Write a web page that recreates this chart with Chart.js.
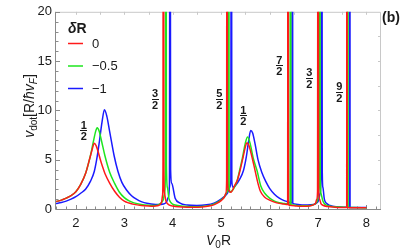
<!DOCTYPE html>
<html><head><meta charset="utf-8">
<script src="https://cdn.jsdelivr.net/npm/chart.js@4"></script>
<style>html,body{margin:0;padding:0;background:#fff}#c{display:block}</style>
</head><body>
<canvas id="c" width="407" height="250"></canvas>
<script>
// ---- data ----
const seriesLabels = ['0', '\u22120.5', '\u22121'];
const seriesColors = ['#ff1a1a', '#1ee61e', '#1a1aff'];

const redPts = [[1.59,0.75],[1.7,0.9],[1.8,1.1],[1.9,1.35],[2.0,1.75],[2.1,2.5],[2.2,3.6],[2.28,5.0],[2.33,5.9],[2.38,6.67],[2.42,6.4],[2.46,5.8],[2.5,5.1],[2.55,4.3],[2.6,3.6],[2.7,2.6],[2.8,1.8],[2.9,1.2],[3.0,0.8],[3.1,0.6],[3.2,0.47],[3.35,0.36],[3.5,0.3],[3.6,0.28],[3.68,0.32],[3.74,0.45],[3.77,0.7],[3.79,1.4],[3.799,4],[3.803,40],[3.811,40],[3.817,4],[3.83,1.6],[3.86,0.8],[3.9,0.5],[3.96,0.34],[4.05,0.26],[4.2,0.2],[4.4,0.17],[4.6,0.2],[4.8,0.35],[4.9,0.55],[5.0,0.85],[5.06,1.15],[5.1,1.6],[5.113,3],[5.117,40],[5.125,40],[5.13,3],[5.15,1.9],[5.2,1.7],[5.28,2.4],[5.34,3.0],[5.39,3.9],[5.45,5.2],[5.5,6.3],[5.53,6.73],[5.57,6.5],[5.63,5.4],[5.7,3.9],[5.76,2.6],[5.81,1.8],[5.9,1.2],[6.0,0.9],[6.1,0.7],[6.2,0.57],[6.3,0.5],[6.373,0.46],[6.377,40],[6.385,40],[6.389,0.42],[6.45,0.36],[6.55,0.3],[6.7,0.27],[6.82,0.3],[6.9,0.42],[6.95,0.6],[6.975,1.0],[6.99,1.8],[6.997,40],[7.005,40],[7.012,2.2],[7.03,1.0],[7.06,0.55],[7.1,0.38],[7.2,0.25],[7.35,0.19],[7.5,0.16],[7.592,0.15],[7.594,40],[7.6,40],[7.602,0.15],[7.7,0.13],[7.85,0.12],[8.0,0.12]];

const greenPts = [[1.59,0.75],[1.7,0.9],[1.8,1.1],[1.9,1.35],[2.0,1.75],[2.1,2.5],[2.2,3.6],[2.3,5.4],[2.36,6.8],[2.41,7.9],[2.44,8.23],[2.48,7.9],[2.53,6.9],[2.6,5.4],[2.7,3.7],[2.8,2.6],[2.9,1.7],[3.0,1.15],[3.1,0.82],[3.2,0.62],[3.35,0.46],[3.5,0.38],[3.6,0.36],[3.7,0.42],[3.76,0.6],[3.8,0.9],[3.83,1.5],[3.848,3.5],[3.856,40],[3.864,40],[3.87,4.5],[3.89,2.2],[3.92,1.1],[3.97,0.6],[4.05,0.4],[4.2,0.28],[4.4,0.23],[4.6,0.26],[4.8,0.42],[4.9,0.62],[5.0,0.92],[5.07,1.25],[5.12,1.7],[5.145,3],[5.151,40],[5.159,40],[5.165,2.6],[5.18,1.7],[5.25,2.0],[5.32,2.7],[5.38,3.9],[5.44,5.2],[5.5,6.7],[5.545,7.3],[5.6,6.6],[5.66,5.2],[5.74,3.9],[5.82,2.3],[5.9,1.6],[6.0,1.1],[6.1,0.8],[6.2,0.64],[6.3,0.55],[6.38,0.5],[6.423,0.48],[6.427,40],[6.435,40],[6.439,0.45],[6.5,0.4],[6.6,0.34],[6.75,0.32],[6.87,0.38],[6.95,0.55],[6.99,0.9],[7.015,1.8],[7.027,4],[7.031,40],[7.039,40],[7.045,4],[7.06,1.6],[7.1,0.8],[7.15,0.45],[7.25,0.28],[7.45,0.2],[7.609,0.18],[7.611,40],[7.619,40],[7.621,0.17],[7.75,0.14],[8.0,0.13]];

const bluePts = [[1.59,0.55],[1.7,0.65],[1.8,0.8],[1.9,1.0],[2.0,1.25],[2.1,1.6],[2.2,2.0],[2.3,2.8],[2.38,3.8],[2.44,5.3],[2.49,7.0],[2.54,8.8],[2.59,10.07],[2.64,9.4],[2.7,7.8],[2.79,5.4],[2.87,3.8],[2.95,2.7],[3.05,1.9],[3.15,1.35],[3.25,1.0],[3.35,0.75],[3.5,0.55],[3.6,0.47],[3.7,0.45],[3.8,0.5],[3.87,0.7],[3.91,1.2],[3.932,2.5],[3.941,40],[3.949,40],[3.956,4],[3.98,2.6],[4.05,1.1],[4.15,0.6],[4.3,0.4],[4.5,0.35],[4.7,0.42],[4.85,0.6],[4.95,0.85],[5.05,1.2],[5.13,1.6],[5.18,2.2],[5.2,3],[5.206,40],[5.214,40],[5.22,3],[5.235,2.3],[5.25,2.2],[5.3,2.4],[5.38,3.0],[5.46,3.9],[5.52,5.3],[5.57,7.0],[5.61,7.97],[5.65,7.7],[5.7,6.6],[5.76,5.0],[5.84,3.7],[5.92,2.8],[6.0,2.1],[6.1,1.5],[6.2,1.1],[6.3,0.85],[6.4,0.7],[6.462,0.62],[6.466,40],[6.474,40],[6.478,0.58],[6.55,0.48],[6.7,0.4],[6.85,0.42],[6.95,0.55],[7.01,0.85],[7.045,1.6],[7.063,4],[7.069,40],[7.081,40],[7.087,4],[7.1,2.2],[7.13,1.0],[7.18,0.55],[7.25,0.35],[7.4,0.22],[7.55,0.18],[7.649,0.17],[7.651,40],[7.659,40],[7.661,0.16],[7.8,0.15],[8.0,0.14]];

const xTicks = [2, 3, 4, 5, 6, 7, 8];
const yTicks = [0, 5, 10, 15, 20];

// resonance labels (fractions) anchored in data units
const fracNum = ['1', '3', '5', '1', '7', '3', '9'];
const fracDen = ['2', '2', '2', '2', '2', '2', '2'];
const fracX = [2.165, 3.635, 4.96, 5.455, 6.2, 6.82, 7.44];
const fracY = [8.0, 11.2, 11.2, 9.5, 14.6, 13.3, 11.9];

// ---- chart ----
const FAM = "'Liberation Sans', Arial, Helvetica, sans-serif";
const TXT = '#1a1a1a';

const deco = {
  id: 'deco',
  beforeDatasetsDraw(chart) {
    const { ctx, chartArea: a, scales: { x, y } } = chart;
    ctx.save();
    ctx.lineWidth = 1;
    // light top/right frame
    ctx.strokeStyle = '#c8c8c8';
    ctx.beginPath();
    ctx.moveTo(a.left, a.top + 0.5); ctx.lineTo(a.right - 0.5, a.top + 0.5);
    ctx.lineTo(a.right - 0.5, a.bottom);
    ctx.stroke();
    ctx.beginPath();
    for (let k = 4; k <= 16; k++) {
      const px = Math.round(x.getPixelForValue(k * 0.5)) + 0.5;
      ctx.moveTo(px, a.top); ctx.lineTo(px, a.top + 3);
    }
    for (let k = 1; k < 8; k++) {
      const py = Math.round(y.getPixelForValue(k * 2.5)) + 0.5;
      ctx.moveTo(a.right, py); ctx.lineTo(a.right - 3, py);
    }
    ctx.stroke();
    // dark left/bottom axes
    ctx.strokeStyle = '#8a8a8a';
    ctx.beginPath();
    ctx.moveTo(a.left - 0.5, a.top); ctx.lineTo(a.left - 0.5, a.bottom + 0.5);
    ctx.lineTo(a.right, a.bottom + 0.5);
    ctx.stroke();
    ctx.beginPath();
    for (let k = 8; k <= 41; k++) {
      const v = k * 0.2;
      const px = Math.round(x.getPixelForValue(v)) + 0.5;
      const major = (k % 5 === 0);
      ctx.moveTo(px, a.bottom); ctx.lineTo(px, a.bottom - (major ? 4 : 2.5));
    }
    for (let k = 0; k <= 20; k++) {
      const py = Math.round(y.getPixelForValue(k)) + 0.5;
      const major = (k % 5 === 0);
      ctx.moveTo(a.left, py); ctx.lineTo(a.left + (major ? 4 : 2.5), py);
    }
    ctx.stroke();
    ctx.restore();
  },
  afterDraw(chart) {
    const { ctx, chartArea: a, scales: { x, y } } = chart;
    ctx.save();
    ctx.fillStyle = TXT;
    ctx.textBaseline = 'alphabetic';

    // fractions
    ctx.font = 'bold 11px ' + FAM;
    ctx.textAlign = 'center';
    for (let i = 0; i < fracNum.length; i++) {
      const cx = x.getPixelForValue(fracX[i]);
      const cy = y.getPixelForValue(fracY[i]);
      ctx.fillText(fracNum[i], cx, cy - 1.5);
      ctx.fillRect(Math.round(cx - 3.5), Math.round(cy), 7, 1);
      ctx.fillText(fracDen[i], cx, cy + 10);
    }

    // (b)
    ctx.textAlign = 'left';
    ctx.font = 'bold 14px ' + FAM;
    ctx.fillText('(b)', 382, 22);

    // legend
    ctx.font = 'bold italic 14px ' + FAM;
    ctx.fillText('\u03b4', 68, 33);
    const dw = ctx.measureText('\u03b4').width;
    ctx.font = 'bold 14px ' + FAM;
    ctx.fillText('R', 68 + dw, 33);
    ctx.font = '13px ' + FAM;
    ctx.textBaseline = 'middle';
    for (let i = 0; i < seriesLabels.length; i++) {
      const ly = 43.5 + i * 22.5;
      ctx.strokeStyle = seriesColors[i];
      ctx.lineWidth = 1.5;
      ctx.beginPath(); ctx.moveTo(68, ly); ctx.lineTo(83, ly); ctx.stroke();
      ctx.fillText(seriesLabels[i], 92, ly + 0.5);
    }

    // axis titles with sub-scripts
    const drawRich = (parts, cx, cy, rot) => {
      ctx.save();
      ctx.translate(cx, cy);
      if (rot) ctx.rotate(rot);
      ctx.textBaseline = 'alphabetic';
      ctx.textAlign = 'left';
      let total = 0;
      for (const p of parts) { ctx.font = p.f; total += ctx.measureText(p.t).width; }
      let px = -total / 2;
      for (const p of parts) {
        ctx.font = p.f;
        ctx.fillText(p.t, px, p.dy || 0);
        px += ctx.measureText(p.t).width;
      }
      ctx.restore();
    };
    drawRich([
      { t: 'V', f: 'italic 14px ' + FAM },
      { t: '0', f: '10px ' + FAM, dy: 3 },
      { t: 'R', f: '14px ' + FAM }
    ], (a.left + a.right) / 2, 245, 0);
    drawRich([
      { t: 'v', f: 'italic 14px ' + FAM },
      { t: 'dot', f: '10px ' + FAM, dy: 3 },
      { t: '[R/', f: '14px ' + FAM },
      { t: '\u0127v', f: 'italic 14px ' + FAM },
      { t: 'F', f: 'italic 10px ' + FAM, dy: 3 },
      { t: ']', f: '14px ' + FAM }
    ], 34, 106, -Math.PI / 2);
    ctx.restore();
  }
};

const mk = (pts, i) => ({
  label: seriesLabels[i],
  data: pts.map(p => ({ x: p[0], y: p[1] })),
  borderColor: seriesColors[i],
  borderWidth: 1.5,
  pointRadius: 0,
  fill: false,
  cubicInterpolationMode: 'monotone'
});

new Chart(document.getElementById('c'), {
  type: 'line',
  data: { datasets: [mk(redPts, 0), mk(greenPts, 1), mk(bluePts, 2)] },
  options: {
    responsive: false,
    animation: false,
    devicePixelRatio: 1,
    layout: { padding: { top: 8, right: 26, left: 0, bottom: 0 } },
    plugins: { legend: { display: false }, tooltip: { enabled: false } },
    scales: {
      x: {
        type: 'linear', min: 1.59, max: 8.3,
        afterBuildTicks: s => { s.ticks = xTicks.map(v => ({ value: v })); },
        afterFit: s => { s.height = 41; },
        grid: { display: false, drawTicks: false },
        border: { display: false },
        ticks: { font: { family: FAM, size: 13 }, color: TXT, padding: 7, maxRotation: 0, autoSkip: false }
      },
      y: {
        type: 'linear', min: 0, max: 20,
        afterBuildTicks: s => { s.ticks = yTicks.map(v => ({ value: v })); },
        afterFit: s => { s.width = 56; },
        grid: { display: false, drawTicks: false },
        border: { display: false },
        ticks: { font: { family: FAM, size: 13 }, color: TXT, padding: 4, autoSkip: false }
      }
    }
  },
  plugins: [deco]
});
</script>
</body></html>
